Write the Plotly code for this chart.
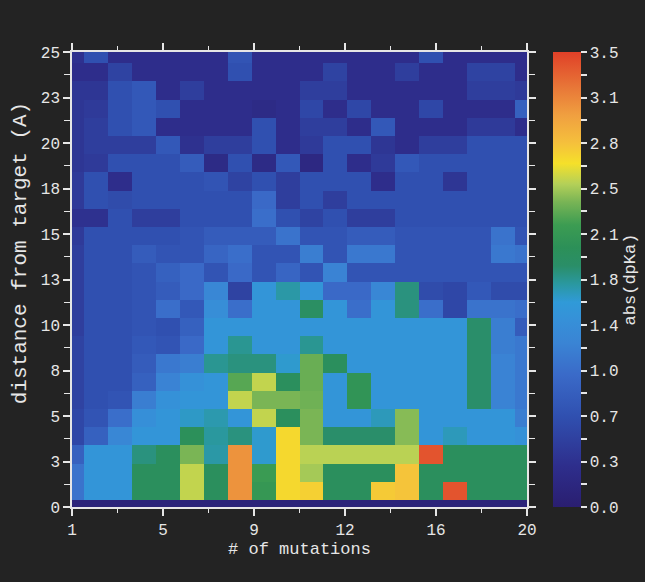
import numpy as np
import plotly.graph_objects as go

# ---- data ----
mutations = list(range(1, 21))
# distance rows (target row first, then shells 1..25)
distance = list(range(0, 26))
ROW_SHIFT = -0.12

dpka_rows = [
    [0.1] * 20,  # target
    [1.1, 1.5, 1.5, 1.95, 1.95, 2.52, 1.95, 3.08, 2.1, 2.68, 2.72, 1.95, 1.95, 2.75, 2.78, 1.95, 3.4, 1.95, 1.95, 1.95],
    [1.1, 1.5, 1.5, 1.95, 1.95, 2.52, 1.95, 3.08, 2.15, 2.68, 2.45, 1.95, 1.95, 1.95, 2.78, 1.95, 1.95, 1.95, 1.95, 1.95],
    [0.9, 1.5, 1.5, 1.8, 1.95, 2.35, 1.7, 3.08, 1.6, 2.68, 2.5, 2.5, 2.5, 2.5, 2.5, 3.4, 1.95, 1.95, 1.95, 1.95],
    [0.6, 0.9, 1.3, 1.5, 1.5, 1.98, 1.72, 1.8, 1.6, 2.68, 2.35, 1.85, 1.85, 1.85, 2.38, 1.5, 1.65, 1.5, 1.5, 1.45],
    [0.6, 0.75, 1.05, 1.42, 1.5, 1.62, 1.68, 1.5, 2.52, 1.95, 2.35, 1.5, 1.5, 1.65, 2.38, 1.5, 1.5, 1.5, 1.5, 1.2],
    [0.55, 0.7, 0.75, 1.2, 1.45, 1.5, 1.5, 2.52, 2.35, 2.35, 2.32, 1.5, 2.05, 1.5, 1.5, 1.5, 1.5, 1.85, 1.25, 1.15],
    [0.55, 0.7, 0.7, 0.9, 1.25, 1.45, 1.5, 2.25, 2.52, 1.95, 2.3, 1.5, 2.05, 1.5, 1.5, 1.5, 1.5, 1.85, 1.25, 1.15],
    [0.55, 0.7, 0.7, 0.85, 1.15, 1.2, 1.75, 1.8, 1.8, 1.6, 2.3, 1.95, 1.5, 1.5, 1.5, 1.5, 1.5, 1.85, 1.25, 1.15],
    [0.55, 0.7, 0.7, 0.8, 0.75, 1.0, 1.5, 1.75, 1.5, 1.5, 1.75, 1.5, 1.5, 1.5, 1.5, 1.5, 1.5, 1.85, 1.2, 1.15],
    [0.5, 0.7, 0.7, 0.75, 0.7, 0.9, 1.5, 1.5, 1.5, 1.5, 1.5, 1.5, 1.5, 1.5, 1.5, 1.5, 1.5, 1.85, 1.2, 0.85],
    [0.5, 0.7, 0.7, 0.75, 1.05, 0.8, 1.4, 1.05, 1.5, 1.5, 1.9, 1.5, 1.05, 1.5, 1.8, 1.05, 0.6, 1.1, 1.1, 1.05],
    [0.5, 0.7, 0.7, 0.75, 0.85, 1.0, 1.3, 0.55, 1.5, 1.7, 1.5, 1.0, 1.0, 1.3, 1.8, 0.65, 0.6, 0.8, 0.65, 0.65],
    [0.5, 0.7, 0.7, 0.75, 0.9, 1.0, 0.75, 1.0, 0.75, 0.95, 0.75, 1.25, 0.75, 0.75, 0.75, 0.75, 0.75, 0.75, 0.75, 0.75],
    [0.5, 0.7, 0.7, 0.85, 0.75, 0.75, 0.95, 1.05, 0.75, 0.75, 1.2, 0.75, 1.15, 1.15, 0.75, 0.75, 0.75, 0.75, 1.15, 1.1],
    [0.45, 0.7, 0.7, 0.7, 0.7, 0.75, 0.85, 0.85, 0.85, 1.1, 0.75, 0.75, 0.85, 0.85, 0.75, 0.75, 0.75, 0.75, 1.1, 0.75],
    [0.35, 0.35, 0.7, 0.5, 0.5, 0.7, 0.7, 0.7, 1.05, 0.7, 0.55, 0.7, 0.5, 0.5, 0.7, 0.7, 0.7, 0.7, 0.7, 0.7],
    [0.45, 0.7, 0.65, 0.7, 0.7, 0.7, 0.7, 0.7, 1.0, 0.5, 0.7, 0.5, 0.7, 0.7, 0.7, 0.7, 0.7, 0.7, 0.7, 0.7],
    [0.45, 0.7, 0.3, 0.7, 0.7, 0.7, 0.75, 0.55, 0.7, 0.5, 0.7, 0.7, 0.7, 0.3, 0.7, 0.7, 0.4, 0.7, 0.7, 0.7],
    [0.4, 0.45, 0.7, 0.7, 0.7, 0.85, 0.25, 0.7, 0.25, 0.8, 0.2, 0.7, 0.3, 0.45, 0.8, 0.7, 0.7, 0.7, 0.7, 0.7],
    [0.4, 0.5, 0.5, 0.5, 0.8, 0.35, 0.5, 0.5, 0.7, 0.3, 0.45, 0.7, 0.7, 0.4, 0.3, 0.5, 0.5, 0.7, 0.7, 0.7],
    [0.4, 0.5, 0.7, 0.8, 0.3, 0.3, 0.3, 0.3, 0.7, 0.3, 0.5, 0.5, 0.3, 0.8, 0.3, 0.3, 0.3, 0.45, 0.45, 0.3],
    [0.4, 0.45, 0.7, 0.8, 0.7, 0.3, 0.3, 0.3, 0.25, 0.3, 0.6, 0.3, 0.6, 0.3, 0.3, 0.6, 0.3, 0.3, 0.3, 0.9],
    [0.4, 0.4, 0.7, 0.8, 0.3, 0.5, 0.3, 0.3, 0.3, 0.3, 0.5, 0.5, 0.3, 0.3, 0.3, 0.3, 0.3, 0.5, 0.5, 0.45],
    [0.3, 0.3, 0.55, 0.3, 0.3, 0.3, 0.3, 0.7, 0.3, 0.3, 0.3, 0.55, 0.3, 0.3, 0.5, 0.3, 0.3, 0.55, 0.55, 0.3],
    [0.35, 0.7, 0.3, 0.3, 0.3, 0.3, 0.3, 0.75, 0.3, 0.3, 0.3, 0.3, 0.3, 0.3, 0.3, 0.7, 0.3, 0.3, 0.3, 0.3],
]

x_tick_vals = list(np.linspace(1, 20, 6))
x_tick_text = ["1", "5", "9", "12", "16", "20"]
y_tick_vals = list(np.linspace(0, 25, 11))
y_tick_text = ["0", "3", "5", "8", "10", "13", "15", "18", "20", "23", "25"]
cb_tick_vals = list(np.linspace(0, 3.5, 11))
cb_tick_text = ["0.0", "0.3", "0.7", "1.0", "1.4", "1.8", "2.1", "2.5", "2.8", "3.1", "3.5"]

# ---- style ----
BG = "#232323"
FG = "#e6e6e6"
FONT = "Liberation Mono"

colorscale = [
    [0.00, "#2a1e70"],
    [0.09, "#2e2e8c"],
    [0.20, "#3050b0"],
    [0.29, "#3a6ac8"],
    [0.36, "#3a84d4"],
    [0.41, "#3690d8"],
    [0.45, "#309ad8"],
    [0.49, "#2a98a0"],
    [0.53, "#2a8e68"],
    [0.57, "#2c9058"],
    [0.62, "#3c9c52"],
    [0.67, "#78b455"],
    [0.71, "#b4d058"],
    [0.755, "#f5e02a"],
    [0.80, "#f5c03c"],
    [0.86, "#f0a040"],
    [0.92, "#e87838"],
    [1.00, "#e04028"],
]

y_centers = [d + ROW_SHIFT for d in distance]

cb_vals_all = list(np.linspace(0, 3.5, 21))
cb_text_all = [cb_tick_text[i // 2] if i % 2 == 0 else "" for i in range(21)]

fig = go.Figure(
    go.Heatmap(
        x=mutations,
        y=y_centers,
        z=dpka_rows,
        zmin=0,
        zmax=3.5,
        colorscale=colorscale,
        zsmooth=False,
        colorbar=dict(
            x=1.057,
            xanchor="left",
            y=0.5,
            yanchor="middle",
            len=1.0,
            lenmode="fraction",
            thickness=28,
            outlinewidth=0,
            xpad=0,
            ypad=0,
            ticks="outside",
            ticklen=6,
            tickwidth=1.5,
            tickcolor=FG,
            tickvals=cb_vals_all,
            ticktext=cb_text_all,
            tickfont=dict(family=FONT, size=16, color=FG),
            title=dict(text="abs(dpKa)", side="right",
                       font=dict(family=FONT, size=17, color=FG)),
        ),
    )
)

axis_common = dict(
    showline=True,
    linecolor=FG,
    linewidth=1.5,
    mirror="ticks",
    ticks="outside",
    ticklen=7,
    tickwidth=1.5,
    tickcolor=FG,
    showgrid=False,
    zeroline=False,
    tickfont=dict(family=FONT, size=16, color=FG),
)

fig.update_xaxes(
    range=[1, 20],
    tickmode="array",
    tickvals=x_tick_vals,
    ticktext=x_tick_text,
    minor=dict(tickmode="array", tickvals=list(np.linspace(1, 20, 11)),
               ticks="outside", ticklen=4, tickcolor=FG, tickwidth=1.2),
    title=dict(text="# of mutations", font=dict(family=FONT, size=17, color=FG), standoff=2),
    **axis_common,
)
fig.update_yaxes(
    range=[0, 25],
    tickmode="array",
    tickvals=y_tick_vals,
    ticktext=y_tick_text,
    minor=dict(tickmode="array", tickvals=list(np.linspace(0, 25, 21)),
               ticks="outside", ticklen=6, tickcolor=FG, tickwidth=1.2),
    **axis_common,
)

fig.add_annotation(
    text="distance from target (A)",
    xref="paper", yref="paper",
    x=-0.114, y=0.558,
    xanchor="center", yanchor="middle",
    textangle=-90,
    showarrow=False,
    font=dict(family=FONT, size=21, color=FG),
)

fig.update_layout(
    width=645,
    height=582,
    margin=dict(l=72, r=118, t=52, b=75, autoexpand=False),
    paper_bgcolor=BG,
    plot_bgcolor=BG,
)

fig.write_html("out.html")
